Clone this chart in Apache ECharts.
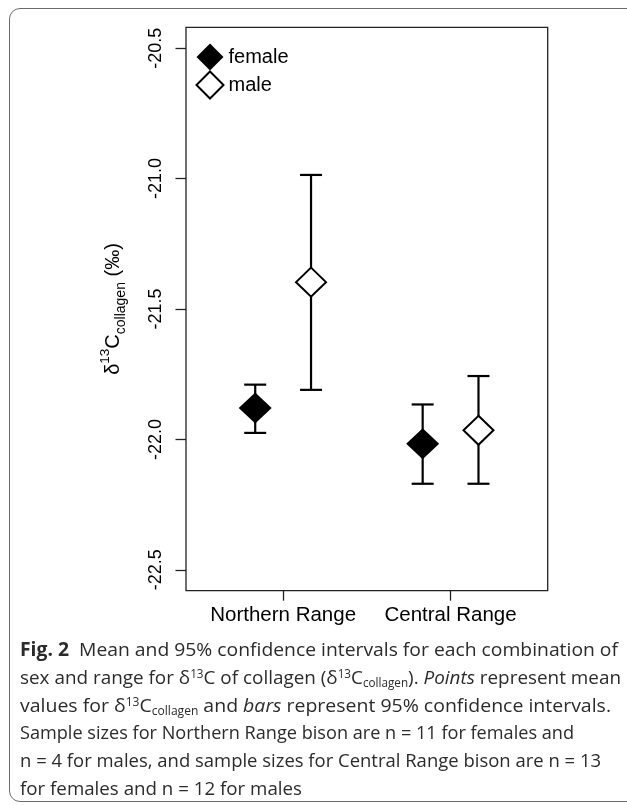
<!DOCTYPE html>
<html>
<head>
<meta charset="utf-8">
<script src="https://cdn.jsdelivr.net/npm/echarts@6/dist/echarts.min.js"></script>
<style>
html,body{margin:0;padding:0;width:627px;height:805px;overflow:hidden;background:#fff;}
#card{position:absolute;left:9px;top:8px;width:700px;height:794px;border:1.5px solid #6b6b6b;border-radius:11px;box-sizing:border-box;}
#chart{position:absolute;left:0;top:0;width:627px;height:640px;}
#caption{position:absolute;left:20px;top:636px;font-family:'Open Sans',sans-serif;font-size:19px;color:#2b2b2b;line-height:27.8px;}
.ln{white-space:nowrap;transform-origin:0 50%;display:block;width:max-content;}
.ln sup,.ln sub{font-size:0.62em;line-height:0;}
.ln sup{vertical-align:0.55em;}
.ln sub{vertical-align:-0.25em;}
</style>
</head>
<body>
<div id="card"></div>
<div id="chart"></div>
<div id="caption">
<span class="ln"><b>Fig. 2</b>&nbsp; Mean and 95% confidence intervals for each combination of</span>
<span class="ln">sex and range for δ<sup>13</sup>C of collagen (δ<sup>13</sup>C<sub>collagen</sub>). <i>Points</i> represent mean</span>
<span class="ln">values for δ<sup>13</sup>C<sub>collagen</sub> and <i>bars</i> represent 95% confidence intervals.</span>
<span class="ln">Sample sizes for Northern Range bison are n = 11 for females and</span>
<span class="ln">n = 4 for males, and sample sizes for Central Range bison are n = 13</span>
<span class="ln">for females and n = 12 for males</span>
</div>
<script>
// ---- data ----
const categories = ['Northern Range', 'Central Range'];
const seriesNames = ['female', 'male'];
const femaleMean  = [-21.880, -22.017];
const femaleLower = [-21.975, -22.170];
const femaleUpper = [-21.790, -21.866];
const maleMean    = [-21.397, -21.965];
const maleLower   = [-21.810, -22.170];
const maleUpper   = [-20.986, -21.757];
const yTicks = [-22.5, -22.0, -21.5, -21.0, -20.5];

// dodge of each sex within a range group
const dodge = {female: -1/6, male: 1/6};

function pts(name, mean) {
  return categories.map((c, i) => [i + 1 + dodge[name], mean[i]]);
}
function bars(name, lo, hi) {
  return categories.map((c, i) => [i + 1 + dodge[name], lo[i], hi[i]]);
}

const FONT = 'Liberation Sans';
const INK = '#000';

function renderBar(params, api) {
  const x = api.value(0), lo = api.value(1), hi = api.value(2);
  const a = api.coord([x, lo]), b = api.coord([x, hi]);
  const hw = 11;
  const st = {stroke: INK, lineWidth: 2.2};
  return {type: 'group', children: [
    {type: 'line', shape: {x1: a[0], y1: a[1], x2: b[0], y2: b[1]}, style: st},
    {type: 'line', shape: {x1: a[0] - hw, y1: a[1], x2: a[0] + hw, y2: a[1]}, style: st},
    {type: 'line', shape: {x1: b[0] - hw, y1: b[1], x2: b[0] + hw, y2: b[1]}, style: st}
  ]};
}

const chart = echarts.init(document.getElementById('chart'), null, {renderer: 'canvas'});
chart.setOption({
  animation: false,
  grid: {left: 186, top: 27.3, right: 79.3, bottom: 49.3, show: true,
         borderColor: '#222', borderWidth: 1.3, backgroundColor: 'transparent'},
  legend: {
    data: seriesNames, orient: 'vertical', left: 190.5, top: 38.5,
    icon: 'diamond', itemWidth: 27, itemHeight: 27, itemGap: 0,
    textStyle: {fontFamily: FONT, fontSize: 20, color: INK},
    selectedMode: false
  },
  xAxis: {
    type: 'value', min: 0.42, max: 2.58,
    axisLine: {show: false},
    splitLine: {show: false},
    axisTick: {show: true, length: 10, customValues: [1, 2], lineStyle: {color: '#222', width: 1.3}},
    axisLabel: {customValues: [1, 2], formatter: v => categories[Math.round(v) - 1],
                fontFamily: FONT, fontSize: 20.5, color: INK, margin: 14}
  },
  yAxis: {
    type: 'value', min: -22.58, max: -20.42,
    axisLine: {show: false},
    splitLine: {show: false},
    axisTick: {show: true, length: 10.5, customValues: yTicks, lineStyle: {color: '#222', width: 1.3}},
    axisLabel: {customValues: yTicks, rotate: 90, formatter: v => v.toFixed(1),
                fontFamily: FONT, fontSize: 18, color: INK, margin: 21},
    name: '{m|δ}{sup|13}{m|C}{sub|collagen}{m| (‰)}',
    nameLocation: 'middle', nameRotate: 90, nameGap: 58,
    nameTextStyle: {
      fontFamily: FONT, color: INK, fontSize: 20,
      rich: {
        m: {fontFamily: FONT, fontSize: 20, lineHeight: 30, color: INK},
        sup: {fontFamily: FONT, fontSize: 13.5, lineHeight: 13, verticalAlign: 'top', color: INK},
        sub: {fontFamily: FONT, fontSize: 14, lineHeight: 13, verticalAlign: 'bottom', color: INK}
      }
    }
  },
  series: [
    {name: 'female CI', type: 'custom', renderItem: renderBar, data: bars('female', femaleLower, femaleUpper), z: 2, silent: true},
    {name: 'male CI', type: 'custom', renderItem: renderBar, data: bars('male', maleLower, maleUpper), z: 2, silent: true},
    {name: 'female', type: 'scatter', symbol: 'diamond', symbolSize: [33, 31], data: pts('female', femaleMean),
     itemStyle: {color: INK, borderColor: INK, borderWidth: 0, opacity: 1}, z: 5},
    {name: 'male', type: 'scatter', symbol: 'diamond', symbolSize: [30, 29], data: pts('male', maleMean),
     itemStyle: {color: '#fff', borderColor: INK, borderWidth: 2, opacity: 1}, z: 5}
  ]
});

// fit caption lines to the reference line extents
const targets = [598, 601, 591, 554, 581, 282];
document.querySelectorAll('#caption .ln').forEach((el, i) => {
  const w = el.getBoundingClientRect().width;
  if (w > 0) el.style.transform = 'scaleX(' + (targets[i] / w).toFixed(4) + ')';
});
</script>
</body>
</html>
